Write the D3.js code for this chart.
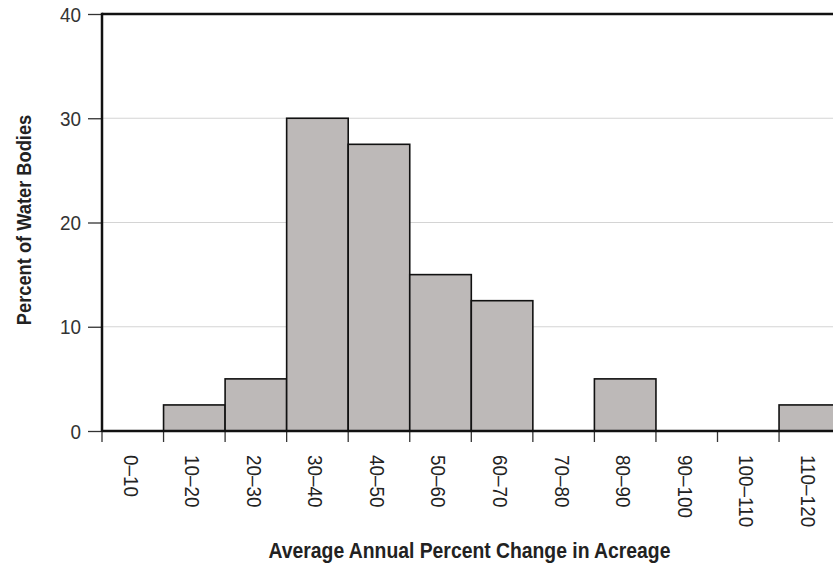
<!DOCTYPE html>
<html><head><meta charset="utf-8">
<script src="https://cdn.jsdelivr.net/npm/d3@7"></script>
<style>
html,body{margin:0;padding:0;background:#fff;}
text{font-family:"Liberation Sans",Arial,sans-serif;}
</style></head>
<body><svg id="c" width="833" height="569"></svg>
<script>
const categories = ["0–10","10–20","20–30","30–40","40–50","50–60","60–70","70–80","80–90","90–100","100–110","110–120"];
const values = [0, 2.5, 5, 30, 27.5, 15, 12.5, 0, 5, 0, 0, 2.5];
const yTicks = [0, 10, 20, 30, 40];
const xTitle = "Average Annual Percent Change in Acreage";
const yTitle = "Percent of Water Bodies";

(function(){
const svg = d3.select("#c");
const mLeft = 102, mTop = 14, mBottom = 431, binW = 61.55, cond = 0.9;
const x = d3.scaleBand().domain(categories).range([mLeft, mLeft + binW * categories.length]).padding(0);
const y = d3.scaleLinear().domain([0, 40]).range([mBottom, mTop]);
const mRight = x.range()[1];

svg.append("g").selectAll("line").data(yTicks.filter(d => d > 0 && d < 40)).join("line")
  .attr("x1", mLeft).attr("x2", mRight).attr("y1", d => y(d)).attr("y2", d => y(d))
  .attr("stroke", "#d4d4d4").attr("stroke-width", 1.2);

svg.append("g").selectAll("rect").data(categories.map((c, i) => ({c, v: values[i]})).filter(d => d.v > 0)).join("rect")
  .attr("x", d => x(d.c)).attr("width", x.bandwidth())
  .attr("y", d => y(d.v)).attr("height", d => y(0) - y(d.v))
  .attr("fill", "#bdb9b8").attr("stroke", "#111").attr("stroke-width", 1.6);

// y axis
const yAxis = d3.axisLeft(y).tickValues(yTicks).tickSize(14).tickFormat("");
const gy = svg.append("g").attr("transform", `translate(${mLeft},0)`).call(yAxis);
gy.select(".domain").remove();
gy.selectAll(".tick line").attr("stroke", "#333").attr("stroke-width", 1.3);
svg.append("g").selectAll("text").data(yTicks).join("text")
  .attr("transform", d => `translate(81,${y(d)}) scale(${cond},1)`)
  .attr("dy", "0.36em").attr("text-anchor", "end")
  .attr("font-size", 21).attr("fill", "#333").text(d => d3.format("d")(d));

// x ticks at bin edges
const edges = categories.map(c => x(c)).concat([mRight]);
svg.append("g").selectAll("line").data(edges).join("line")
  .attr("x1", d => d).attr("x2", d => d).attr("y1", mBottom).attr("y2", mBottom + 11)
  .attr("stroke", "#333").attr("stroke-width", 1.3);

svg.append("g").selectAll("text").data(categories).join("text")
  .attr("transform", d => `translate(${x(d) + x.bandwidth()/2 - 1.5},455) rotate(90) scale(${cond},1)`)
  .attr("dy", "0.36em").attr("text-anchor", "start")
  .attr("font-size", 21).attr("fill", "#222")
  .text(d => d);

svg.append("line").attr("x1", mLeft).attr("x2", mRight).attr("y1", mTop).attr("y2", mTop)
  .attr("stroke", "#111").attr("stroke-width", 2.5);
svg.append("line").attr("x1", mLeft).attr("x2", mLeft).attr("y1", mTop - 1.2).attr("y2", mBottom + 1)
  .attr("stroke", "#111").attr("stroke-width", 2.5);
svg.append("line").attr("x1", mLeft).attr("x2", mRight).attr("y1", mBottom).attr("y2", mBottom)
  .attr("stroke", "#111").attr("stroke-width", 2.5);

svg.append("text").attr("transform", `translate(469.5,558) scale(${cond},1)`).attr("text-anchor", "middle")
  .attr("font-size", 21.5).attr("font-weight", "bold").attr("fill", "#222").text(xTitle);
svg.append("text").attr("transform", `translate(31,220) rotate(-90) scale(0.87,1)`).attr("text-anchor", "middle")
  .attr("font-size", 21).attr("font-weight", "bold").attr("fill", "#222").text(yTitle);
})();
</script></body></html>
